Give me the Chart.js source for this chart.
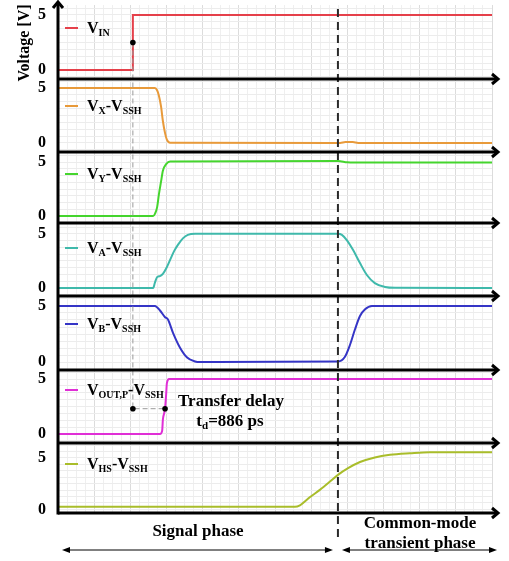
<!DOCTYPE html>
<html><head><meta charset="utf-8">
<script src="https://cdn.jsdelivr.net/npm/chart.js@4"></script>
<style>html,body{margin:0;padding:0;background:#fff;}canvas{display:block;}</style>
</head><body>
<canvas id="c" width="509" height="561"></canvas>
<script>
// ---------- data (time in ns, voltage in V) ----------
const tVIN  = [0, 2.07, 2.07, 12];
const vVIN  = [0, 0, 5, 5];
const tVX   = [0, 2.68, 2.74, 2.79, 2.85, 2.90, 2.96, 3.01, 3.10, 7.80, 7.95, 8.15, 8.30, 12];
const vVX   = [5, 5, 4.8, 4.3, 3.3, 2.0, 0.9, 0.3, 0.02, 0, 0.08, 0.08, 0, 0];
const tVY   = [0, 2.63, 2.68, 2.74, 2.79, 2.85, 2.90, 2.99, 3.10, 7.74, 8.00, 8.20, 12];
const vVY   = [0, 0, 0.2, 0.8, 2.0, 3.2, 4.2, 4.8, 5.05, 5.1, 4.97, 4.95, 4.95];
const tVA   = [0, 2.63, 2.68, 2.74, 2.82, 2.90, 2.99, 3.10, 3.21, 3.32, 3.46, 3.59, 3.79, 7.74, 7.85, 7.99, 8.16, 8.35, 8.54, 8.76, 9.04, 9.32, 12];
const vVA   = [0, 0, 0.5, 1.0, 1.1, 1.3, 1.8, 2.6, 3.4, 4.0, 4.6, 4.9, 5.0, 5.0, 4.9, 4.4, 3.5, 2.3, 1.2, 0.45, 0.1, 0.02, 0];
const tVB   = [0, 2.68, 2.82, 2.96, 3.04, 3.18, 3.37, 3.57, 3.79, 3.93, 7.74, 7.93, 8.07, 8.21, 8.35, 8.49, 8.68, 9.04, 12];
const vVB   = [5, 5, 4.6, 4.0, 3.8, 2.6, 1.3, 0.4, 0.05, 0, 0.05, 0.45, 1.5, 2.9, 4.1, 4.7, 5.0, 5.0, 5.0];
const tVOUT = [0, 2.82, 2.88, 2.90, 2.96, 2.99, 3.01, 3.07, 12];
const vVOUT = [0, 0, 0.3, 1.3, 2.3, 3.6, 4.6, 5.0, 5.0];
const tVHS  = [0, 6.55, 6.69, 6.97, 7.24, 7.52, 7.74, 8.02, 8.35, 8.76, 9.18, 9.73, 10.28, 12];
const vVHS  = [0.25, 0.25, 0.4, 1.2, 1.9, 2.7, 3.35, 4.0, 4.6, 5.05, 5.3, 5.45, 5.55, 5.55];

const seriesT = [tVIN, tVX, tVY, tVA, tVB, tVOUT, tVHS];
const seriesV = [vVIN, vVX, vVY, vVA, vVB, vVOUT, vVHS];
// legend labels: [text, isSubscript]
const seriesLabels = [
  [['V',0],['IN',1]],
  [['V',0],['X',1],['-V',0],['SSH',1]],
  [['V',0],['Y',1],['-V',0],['SSH',1]],
  [['V',0],['A',1],['-V',0],['SSH',1]],
  [['V',0],['B',1],['-V',0],['SSH',1]],
  [['V',0],['OUT,P',1],['-V',0],['SSH',1]],
  [['V',0],['HS',1],['-V',0],['SSH',1]]
];
const yTickValues = [0, 5];
const yTickLabels = ['0', '5'];
const yAxisTitle = 'Voltage [V]';
const tStep = 2.07;          // V_IN 50% crossing
const tOut  = 2.96;          // V_OUT,P crossing
const tPhase = 7.74;         // boundary of the two phases
const phaseLabels = ['Signal phase', 'Common-mode', 'transient phase'];
const delayTitle = 'Transfer delay';
const delayValue = [['t',0],['d',1],['=886 ps',0]];

// ---------- styling / layout ----------
const colors = ['#e5404a', '#e89a3a', '#45d52e', '#3fb9ab', '#3535c6', '#e02fd6', '#a9bd2a'];
const panelMin = [-0.82, -0.82, -0.65, -0.74, -0.71, -0.82, -0.35];
const panelMax = [5.9, 5.82, 5.93, 6.0, 5.89, 5.82, 6.45];
const panelWeight = [74, 73, 71, 73, 74, 73, 70];
const legendOffset = [23, 27, 22, 25, 28, 20, 21];
const FONT = "'Liberation Serif','Times New Roman',serif";
const yIds = seriesT.map((_, i) => 'y' + i);

const scales = {
  x: {
    type: 'linear', min: 0, max: 12, position: 'bottom',
    ticks: { display: false },
    border: { display: false },
    grid: {
      drawTicks: false,
      color: c => (c.tick && Math.abs(c.tick.value - Math.round(c.tick.value)) < 1e-6) ? '#dcdcdc' : '#efefef',
      lineWidth: 1
    },
    afterBuildTicks: s => { const a = []; for (let i = 0; i <= 48; i++) a.push({ value: i * 0.25 }); s.ticks = a; },
    afterFit: s => { s.height = 0; s.paddingLeft = 0; s.paddingRight = 0; }
  }
};
// stacked axes: last defined is placed on top, so add bottom panel first
for (let i = yIds.length - 1; i >= 0; i--) {
  scales[yIds[i]] = {
    type: 'linear', position: 'left', stack: 'panels', stackWeight: panelWeight[i],
    min: panelMin[i], max: panelMax[i],
    border: { display: false },
    grid: { drawTicks: false, color: '#ececec', lineWidth: 1 },
    ticks: {
      autoSkip: false, padding: 12, color: '#000',
      font: { family: FONT, size: 16, weight: 'bold' },
      callback: v => { const k = yTickValues.findIndex(t => Math.abs(t - v) < 1e-6); return k >= 0 ? yTickLabels[k] : ''; }
    },
    afterBuildTicks: ((lo, hi) => s => {
      const a = []; const st = 0.625;
      for (let k = Math.ceil(lo / st); k * st <= hi; k++) a.push({ value: +(k * st).toFixed(4) });
      s.ticks = a;
    })(panelMin[i], panelMax[i]),
    afterFit: s => { s.width = 20; s.paddingTop = 0; s.paddingBottom = 0; }
  };
}

const datasets = seriesT.map((t, i) => ({
  data: t.map((x, k) => ({ x, y: seriesV[i][k] })),
  yAxisID: yIds[i],
  borderColor: colors[i],
  borderWidth: 2,
  pointRadius: 0,
  showLine: true,
  fill: false,
  tension: i === 0 ? 0 : 0.4,
  cubicInterpolationMode: i === 0 ? 'default' : 'monotone'
}));

function drawRich(ctx, x, y, parts, size, subSize) {
  for (const [txt, sub] of parts) {
    ctx.font = `bold ${sub ? subSize : size}px ${FONT}`;
    ctx.fillText(txt, x, sub ? y + 2.5 : y);
    x += ctx.measureText(txt).width;
  }
  return x;
}
function richWidth(ctx, parts, size, subSize) {
  let w = 0;
  for (const [txt, sub] of parts) { ctx.font = `bold ${sub ? subSize : size}px ${FONT}`; w += ctx.measureText(txt).width; }
  return w;
}
function chevron(ctx, x, y, dir) {
  ctx.beginPath();
  if (dir === 'right') { ctx.moveTo(x - 6, y - 5); ctx.lineTo(x, y); ctx.lineTo(x - 6, y + 5); }
  else { ctx.moveTo(x - 5, y + 6); ctx.lineTo(x, y); ctx.lineTo(x + 5, y + 6); }
  ctx.stroke();
}
function headArrow(ctx, x1, x2, y) {
  ctx.lineWidth = 1; ctx.strokeStyle = '#000'; ctx.fillStyle = '#000';
  ctx.beginPath(); ctx.moveTo(x1 + 3, y); ctx.lineTo(x2 - 3, y); ctx.stroke();
  ctx.beginPath(); ctx.moveTo(x1, y); ctx.lineTo(x1 + 8, y - 3); ctx.lineTo(x1 + 8, y + 3); ctx.closePath(); ctx.fill();
  ctx.beginPath(); ctx.moveTo(x2, y); ctx.lineTo(x2 - 8, y - 3); ctx.lineTo(x2 - 8, y + 3); ctx.closePath(); ctx.fill();
}
function dot(ctx, x, y) { ctx.fillStyle = '#000'; ctx.beginPath(); ctx.arc(x, y, 2.8, 0, Math.PI * 2); ctx.fill(); }

const decor = {
  id: 'decor',
  afterDraw(chart) {
    const ctx = chart.ctx, ca = chart.chartArea, xs = chart.scales.x;
    const P = yIds.map(id => chart.scales[id]);
    ctx.save();
    // dashed guides
    const xStep = xs.getPixelForValue(tStep), xOut = xs.getPixelForValue(tOut), xPh = xs.getPixelForValue(tPhase);
    const yTop = P[0].getPixelForValue(2.5), yDel = P[5].getPixelForValue(2.3);
    ctx.strokeStyle = '#9a9a9a'; ctx.lineWidth = 1; ctx.setLineDash([5, 3]);
    ctx.beginPath(); ctx.moveTo(xStep, yTop); ctx.lineTo(xStep, yDel); ctx.lineTo(xOut, yDel); ctx.stroke();
    ctx.strokeStyle = '#2a2a2a'; ctx.lineWidth = 2; ctx.setLineDash([8, 5]);
    ctx.beginPath(); ctx.moveTo(xPh, ca.top + 4); ctx.lineTo(xPh, ca.bottom + 28); ctx.stroke();
    ctx.setLineDash([]);
    dot(ctx, xStep, yTop); dot(ctx, xStep, yDel); dot(ctx, xOut, yDel);
    // separators with arrows
    ctx.strokeStyle = '#000'; ctx.lineWidth = 3; ctx.lineCap = 'butt';
    P.forEach(s => {
      ctx.beginPath(); ctx.moveTo(ca.left, s.bottom); ctx.lineTo(ca.right + 5, s.bottom); ctx.stroke();
      chevron(ctx, ca.right + 6, s.bottom, 'right');
    });
    ctx.beginPath(); ctx.moveTo(ca.left, ca.bottom + 1.5); ctx.lineTo(ca.left, 3); ctx.stroke();
    chevron(ctx, ca.left, 2, 'up');
    // legends
    ctx.textBaseline = 'alphabetic'; ctx.textAlign = 'left';
    P.forEach((s, i) => {
      const y = s.top + legendOffset[i];
      ctx.strokeStyle = colors[i]; ctx.lineWidth = 2;
      ctx.beginPath(); ctx.moveTo(ca.left + 7, y); ctx.lineTo(ca.left + 20, y); ctx.stroke();
      ctx.fillStyle = '#000';
      drawRich(ctx, ca.left + 29, y + 5, seriesLabels[i], 16, 10);
    });
    // transfer delay annotation
    ctx.fillStyle = '#000';
    ctx.font = `bold 17px ${FONT}`; ctx.textAlign = 'center';
    ctx.fillText(delayTitle, 231, 406);
    ctx.textAlign = 'left';
    const w = richWidth(ctx, delayValue, 17, 11);
    drawRich(ctx, 230 - w / 2, 426, delayValue, 17, 11);
    // phase labels
    ctx.textAlign = 'center';
    ctx.font = `bold 17px ${FONT}`;
    ctx.fillText(phaseLabels[0], (ca.left + xPh) / 2, 536);
    ctx.fillText(phaseLabels[1], 420, 528);
    ctx.fillText(phaseLabels[2], 420, 548);
    headArrow(ctx, ca.left + 4, xPh - 5, 550);
    headArrow(ctx, xPh + 4, ca.right + 5, 550);
    // y title
    ctx.translate(25, 43); ctx.rotate(-Math.PI / 2);
    ctx.font = `bold 16px ${FONT}`; ctx.textBaseline = 'middle';
    ctx.fillText(yAxisTitle, 0, 0);
    ctx.restore();
  }
};

Chart.defaults.font.family = FONT;
new Chart(document.getElementById('c'), {
  type: 'scatter',
  data: { datasets },
  options: {
    responsive: false, animation: false, devicePixelRatio: 1,
    layout: { padding: { left: 38, right: 17, top: 5, bottom: 48 } },
    plugins: { legend: { display: false }, tooltip: { enabled: false } },
    scales
  },
  plugins: [decor]
});
</script>
</body></html>
